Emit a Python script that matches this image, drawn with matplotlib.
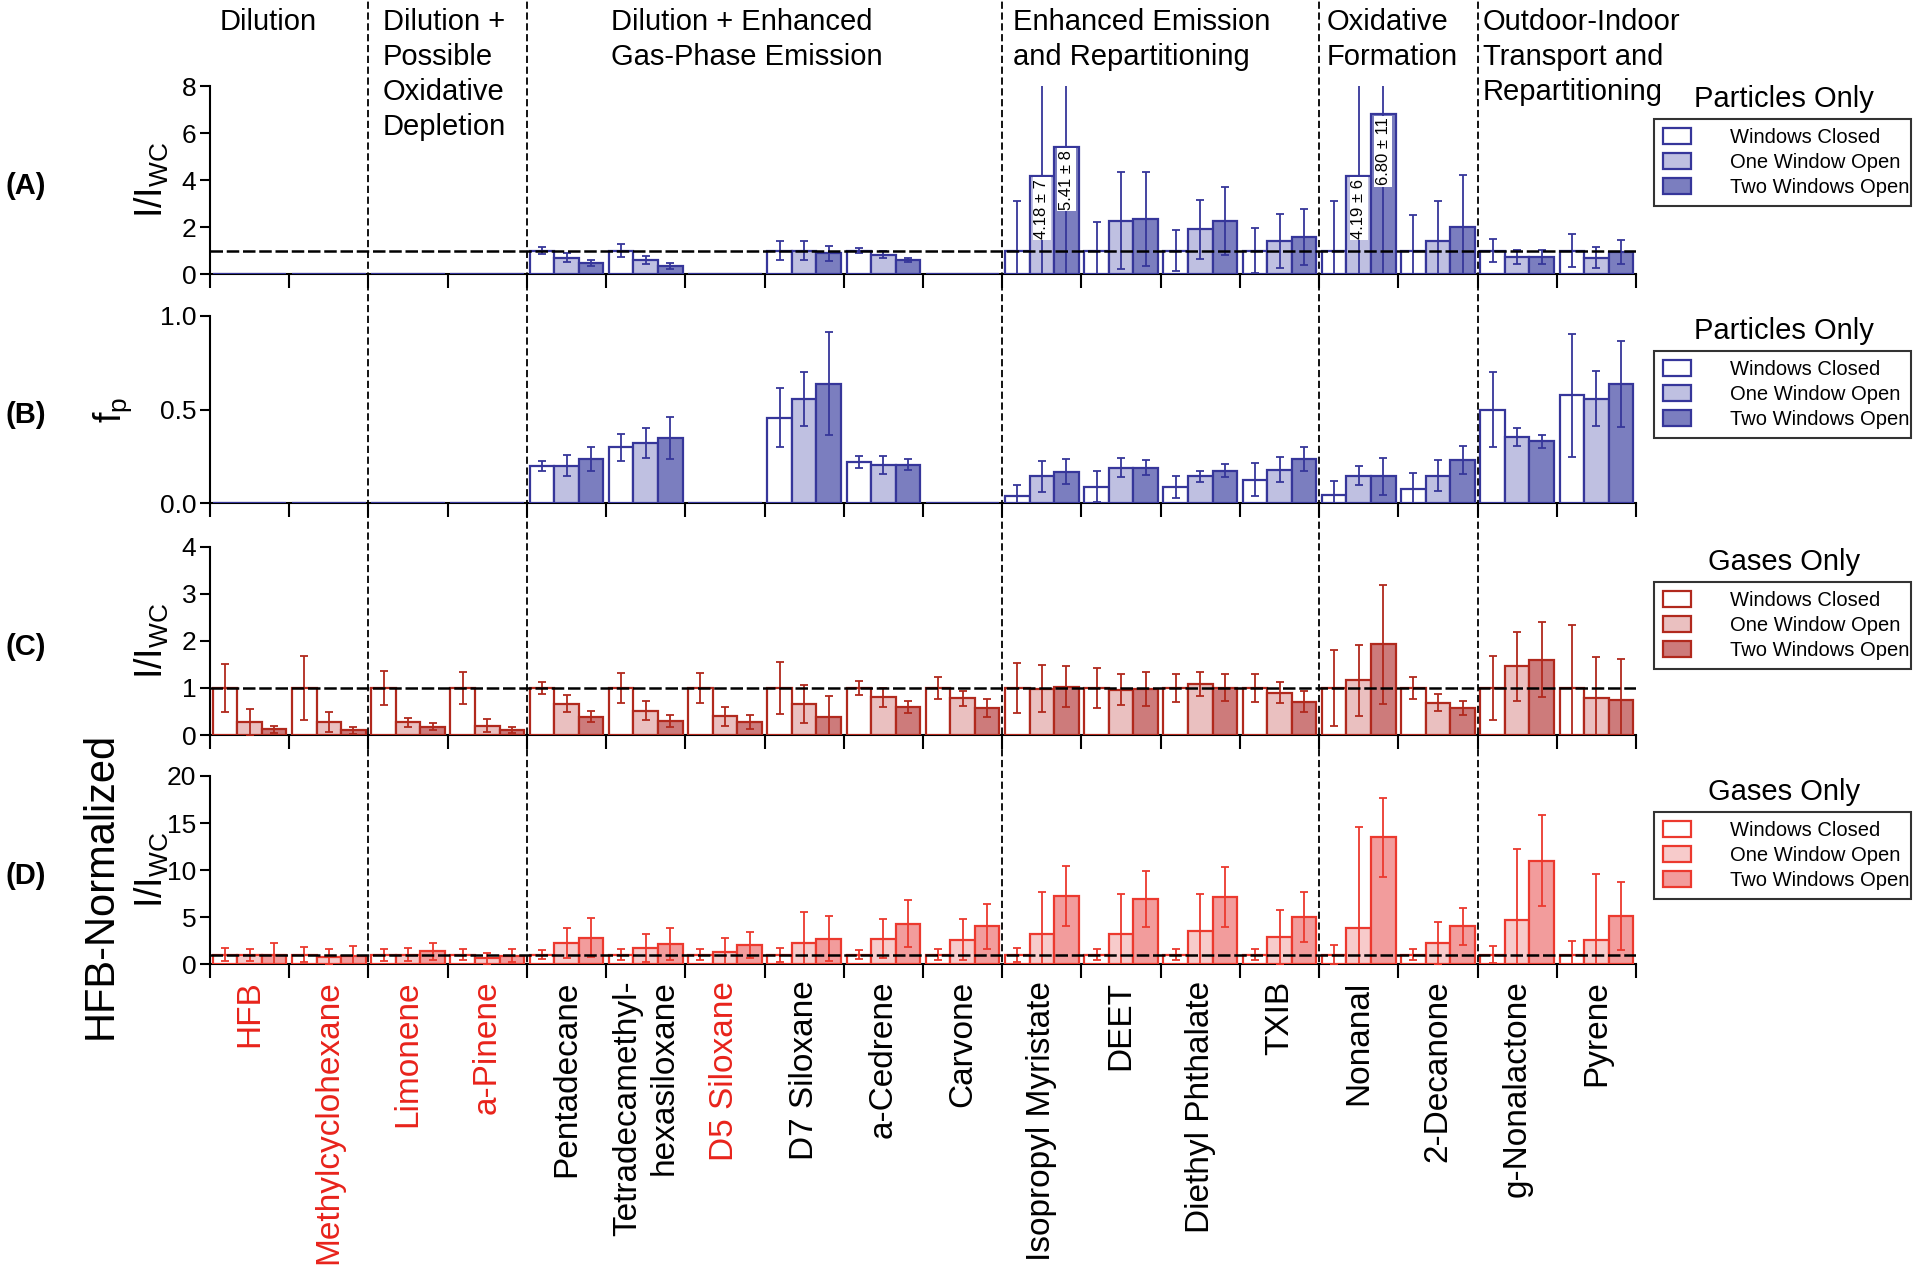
import numpy as np
import matplotlib
matplotlib.use("Agg")
import matplotlib.pyplot as plt
import matplotlib.patches as mpatches
from matplotlib.lines import Line2D
from matplotlib.transforms import blended_transform_factory

nan = np.nan

categories = [
    "HFB", "Methylcyclohexane", "Limonene", "a-Pinene", "Pentadecane",
    "Tetradecamethyl-\nhexasiloxane", "D5 Siloxane", "D7 Siloxane", "a-Cedrene",
    "Carvone", "Isopropyl Myristate", "DEET", "Diethyl Phthalate", "TXIB",
    "Nonanal", "2-Decanone", "g-Nonalactone", "Pyrene",
]
red_labels = ["HFB", "Methylcyclohexane", "Limonene", "a-Pinene", "D5 Siloxane"]

group_titles = [
    "Dilution",
    "Dilution +\nPossible\nOxidative\nDepletion",
    "Dilution + Enhanced\nGas-Phase Emission",
    "Enhanced Emission\nand Repartitioning",
    "Oxidative\nFormation",
    "Outdoor-Indoor\nTransport and\nRepartitioning",
]
group_sizes = [2, 2, 6, 4, 2, 2]

series_names = ["Windows Closed", "One Window Open", "Two Windows Open"]

# (A) particles, I/I_WC
a_wc = [nan, nan, nan, nan, 1.0, 1.0, nan, 1.0, 1.0, nan, 1.0, 1.0, 1.0, 1.0, 1.0, 1.0, 1.0, 1.0]
a_wc_err = [nan, nan, nan, nan, 0.14, 0.27, nan, 0.4, 0.1, nan, 2.1, 1.2, 0.87, 0.97, 2.1, 1.5, 0.5, 0.7]
a_one = [nan, nan, nan, nan, 0.70, 0.58, nan, 1.0, 0.82, nan, 4.18, 2.28, 1.9, 1.4, 4.19, 1.4, 0.74, 0.70]
a_one_err = [nan, nan, nan, nan, 0.18, 0.17, nan, 0.4, 0.15, nan, 7, 2.05, 1.25, 1.15, 6, 1.7, 0.3, 0.45]
a_two = [nan, nan, nan, nan, 0.48, 0.36, nan, 0.88, 0.6, nan, 5.41, 2.33, 2.26, 1.59, 6.80, 2.01, 0.74, 0.95]
a_two_err = [nan, nan, nan, nan, 0.12, 0.13, nan, 0.33, 0.08, nan, 8, 2.0, 1.45, 1.2, 11, 2.2, 0.3, 0.5]
a_notes = [(10, 1, "4.18 ± 7"), (10, 2, "5.41 ± 8"), (14, 1, "4.19 ± 6"), (14, 2, "6.80 ± 11")]

# (B) particles, f_p
b_wc = [nan, nan, nan, nan, 0.196, 0.297, nan, 0.457, 0.218, nan, 0.035, 0.088, 0.085, 0.124, 0.044, 0.076, 0.50, 0.575]
b_wc_err = [nan, nan, nan, nan, 0.027, 0.072, nan, 0.16, 0.033, nan, 0.06, 0.083, 0.057, 0.088, 0.075, 0.084, 0.2, 0.33]
b_one = [nan, nan, nan, nan, 0.2, 0.32, nan, 0.558, 0.205, nan, 0.142, 0.188, 0.142, 0.179, 0.147, 0.147, 0.354, 0.558]
b_one_err = [nan, nan, nan, nan, 0.057, 0.081, nan, 0.144, 0.049, nan, 0.083, 0.051, 0.031, 0.066, 0.052, 0.084, 0.047, 0.147]
b_two = [nan, nan, nan, nan, 0.235, 0.347, nan, 0.639, 0.204, nan, 0.168, 0.188, 0.173, 0.237, 0.143, 0.23, 0.329, 0.635]
b_two_err = [nan, nan, nan, nan, 0.062, 0.113, nan, 0.275, 0.03, nan, 0.067, 0.04, 0.033, 0.065, 0.1, 0.077, 0.034, 0.23]

# (C) gases, I/I_WC
c_wc = [1.0] * 18
c_wc_err = [0.51, 0.68, 0.36, 0.34, 0.12, 0.32, 0.31, 0.55, 0.14, 0.24, 0.53, 0.43, 0.30, 0.30, 0.81, 0.23, 0.69, 1.35]
c_one = [0.28, 0.27, 0.27, 0.20, 0.67, 0.52, 0.40, 0.66, 0.80, 0.78, 0.98, 0.96, 1.08, 0.90, 1.16, 0.69, 1.46, 0.79]
c_one_err = [0.27, 0.21, 0.10, 0.14, 0.18, 0.20, 0.20, 0.41, 0.21, 0.16, 0.50, 0.33, 0.25, 0.22, 0.75, 0.18, 0.74, 0.87]
c_two = [0.12, 0.10, 0.18, 0.11, 0.39, 0.29, 0.27, 0.38, 0.60, 0.57, 1.03, 0.98, 1.01, 0.71, 1.93, 0.57, 1.60, 0.74]
c_two_err = [0.07, 0.08, 0.07, 0.07, 0.11, 0.13, 0.15, 0.44, 0.13, 0.19, 0.44, 0.36, 0.29, 0.22, 1.27, 0.15, 0.80, 0.88]

# (D) gases, HFB-normalized I/I_WC
d_wc = [1.0] * 18
d_wc_err = [0.7, 0.8, 0.65, 0.6, 0.5, 0.6, 0.6, 0.75, 0.5, 0.55, 0.75, 0.6, 0.55, 0.55, 1.0, 0.55, 0.9, 1.4]
d_one = [1.0, 0.8, 1.0, 0.6, 2.2, 1.7, 1.3, 2.2, 2.7, 2.6, 3.2, 3.2, 3.5, 2.9, 3.8, 2.2, 4.7, 2.6]
d_one_err = [0.65, 0.8, 0.7, 0.6, 1.6, 1.5, 1.5, 3.3, 2.1, 2.2, 4.5, 4.2, 3.9, 2.9, 10.8, 2.3, 7.5, 7.0]
d_two = [1.0, 0.85, 1.35, 0.9, 2.8, 2.1, 2.0, 2.7, 4.3, 4.0, 7.2, 6.9, 7.1, 5.0, 13.5, 4.0, 11.0, 5.1]
d_two_err = [1.25, 1.05, 0.9, 0.7, 2.1, 1.7, 1.4, 2.4, 2.5, 2.4, 3.2, 3.0, 3.2, 2.7, 4.2, 2.0, 4.8, 3.6]

BLUE_EDGE = "#36369a"
BLUE_FILLS = ["white", "#bfc0e1", "#7b7ebf"]
DARKRED_EDGE = "#b1291d"
DARKRED_FILLS = ["white", "#eac0c0", "#cd7b7b"]
RED_EDGE = "#ec392e"
RED_FILLS = ["white", "#f7cbcb", "#f29c9c"]
LABEL_RED = "#e8231b"

plt.rcParams["font.family"] = ["Liberation Sans", "DejaVu Sans"]
plt.rcParams["mathtext.fontset"] = "custom"
plt.rcParams["mathtext.rm"] = "Liberation Sans"
plt.rcParams["mathtext.default"] = "regular"

BAR_W = 0.31
N = len(categories)


def draw_panel(ax, series, errs, fills, edge, ylim, yticks, yticklabels, ref_line):
    x0 = np.arange(N)
    for k in range(3):
        x = x0 + (k - 1) * BAR_W
        h = np.nan_to_num(np.array(series[k], dtype=float))
        ax.bar(x, h, width=BAR_W, color=fills[k], edgecolor=edge, linewidth=1.6, zorder=3)
        ax.errorbar(x, h, yerr=np.array(errs[k], dtype=float), fmt="none", ecolor=edge,
                    elinewidth=1.3, capsize=3, capthick=1.3, zorder=4)
    if ref_line:
        ax.axhline(1, color="black", lw=1.8, ls=(0, (5, 1.5)), zorder=5)
    ax.set_xlim(-0.5, N - 0.5)
    ax.set_ylim(*ylim)
    ax.set_yticks(yticks)
    ax.set_yticklabels(yticklabels)
    ax.set_xticks(np.arange(-0.5, N, 1))
    ax.tick_params(axis="x", which="major", length=10, width=1.5, labelbottom=False)
    ax.tick_params(axis="y", length=7, width=1.5, labelsize=19, pad=3)
    for s in ["top", "right"]:
        ax.spines[s].set_visible(False)
    for s in ["left", "bottom"]:
        ax.spines[s].set_linewidth(1.5)


def panel_legend(fig, fills, edge, title, top):
    handles = [mpatches.Patch(facecolor=f, edgecolor=edge, linewidth=1.6) for f in fills]
    fig.text(0.929, top + 0.016, title, ha="center", va="center", fontsize=21)
    leg = fig.legend(handles, series_names, loc="upper left", mode="expand",
                     bbox_to_anchor=(0.8615, top - 0.2, 0.134, 0.2), fontsize=14.5,
                     frameon=True, fancybox=False, edgecolor="black", borderpad=0.45,
                     labelspacing=0.3, handlelength=1.4, handleheight=0.8, handletextpad=1.9,
                     borderaxespad=0)
    leg.get_frame().set_linewidth(1.5)


fig = plt.figure(figsize=(19.2, 12.69), dpi=100)
left, width = 0.1094, 0.7427
ax_a = fig.add_axes([left, 0.784, width, 0.148])
ax_b = fig.add_axes([left, 0.6036, width, 0.1474])
ax_c = fig.add_axes([left, 0.4208, width, 0.1482])
ax_d = fig.add_axes([left, 0.2403, width, 0.1482])

draw_panel(ax_a, [a_wc, a_one, a_two], [a_wc_err, a_one_err, a_two_err], BLUE_FILLS, BLUE_EDGE,
           (0, 8), [0, 2, 4, 6, 8], ["0", "2", "4", "6", "8"], True)
draw_panel(ax_b, [b_wc, b_one, b_two], [b_wc_err, b_one_err, b_two_err], BLUE_FILLS, BLUE_EDGE,
           (0, 1.0), [0, 0.5, 1.0], ["0.0", "0.5", "1.0"], False)
draw_panel(ax_c, [c_wc, c_one, c_two], [c_wc_err, c_one_err, c_two_err], DARKRED_FILLS, DARKRED_EDGE,
           (0, 4), [0, 1, 2, 3, 4], ["0", "1", "2", "3", "4"], True)
draw_panel(ax_d, [d_wc, d_one, d_two], [d_wc_err, d_one_err, d_two_err], RED_FILLS, RED_EDGE,
           (0, 20), [0, 5, 10, 15, 20], ["0", "5", "10", "15", "20"], True)

# value notes inside the tall bars of panel A
a_series = [a_wc, a_one, a_two]
for cat, k, txt in a_notes:
    ax_a.text(cat + (k - 1) * BAR_W, a_series[k][cat] - 0.12, txt, rotation=90, ha="center", va="top",
              fontsize=12, zorder=6, bbox=dict(facecolor="white", edgecolor="none", pad=1.2))

# compound names under panel D
ax_d.set_xticks(np.arange(N), minor=True)
ax_d.set_xticklabels(categories, minor=True, rotation=90, fontsize=24, multialignment="right")
ax_d.tick_params(axis="x", which="minor", length=0, pad=12)
for lbl in ax_d.get_xticklabels(minor=True):
    if lbl.get_text() in red_labels:
        lbl.set_color(LABEL_RED)

# y labels and panel letters
ylab = r"I/I$_{WC}$"
for ax, lab, letter, lx in [(ax_a, ylab, "(A)", -0.041), (ax_b, r"f$_{p}$", "(B)", -0.068),
                            (ax_c, ylab, "(C)", -0.041)]:
    ax.text(lx, 0.5, lab, rotation=90, ha="center", va="center", fontsize=27, transform=ax.transAxes)
    ax.text(-0.129, 0.47, letter, ha="center", va="center", fontsize=21, fontweight="bold", transform=ax.transAxes)
ax_d.text(-0.041, 0.5, ylab, rotation=90, ha="center", va="center", fontsize=27, transform=ax_d.transAxes)
ax_d.text(-0.077, 0.42, "HFB-Normalized", rotation=90, ha="center", va="center", fontsize=30, transform=ax_d.transAxes)
ax_d.text(-0.129, 0.47, "(D)", ha="center", va="center", fontsize=21, fontweight="bold", transform=ax_d.transAxes)

# group separators spanning all panels
edges = np.cumsum(group_sizes)[:-1] - 0.5
trans = blended_transform_factory(ax_d.transData, fig.transFigure)
for b in edges:
    fig.add_artist(Line2D([b, b], [0.233, 1.0], transform=trans, color="black", lw=1.3, ls=(0, (4, 2))))

# group titles
title_pos = [(0.1396, "center"), (0.1995, "left"), (0.318, "left"), (0.5276, "left"), (0.691, "left"), (0.7724, "left")]
for (x, ha), t in zip(title_pos, group_titles):
    fig.text(x, 0.994, t, ha=ha, va="top", fontsize=21, linespacing=1.33)

panel_legend(fig, BLUE_FILLS, BLUE_EDGE, "Particles Only", 0.9062)
panel_legend(fig, BLUE_FILLS, BLUE_EDGE, "Particles Only", 0.7234)
panel_legend(fig, DARKRED_FILLS, DARKRED_EDGE, "Gases Only", 0.5414)
panel_legend(fig, RED_FILLS, RED_EDGE, "Gases Only", 0.3601)

fig.savefig("out.png", dpi=100)
